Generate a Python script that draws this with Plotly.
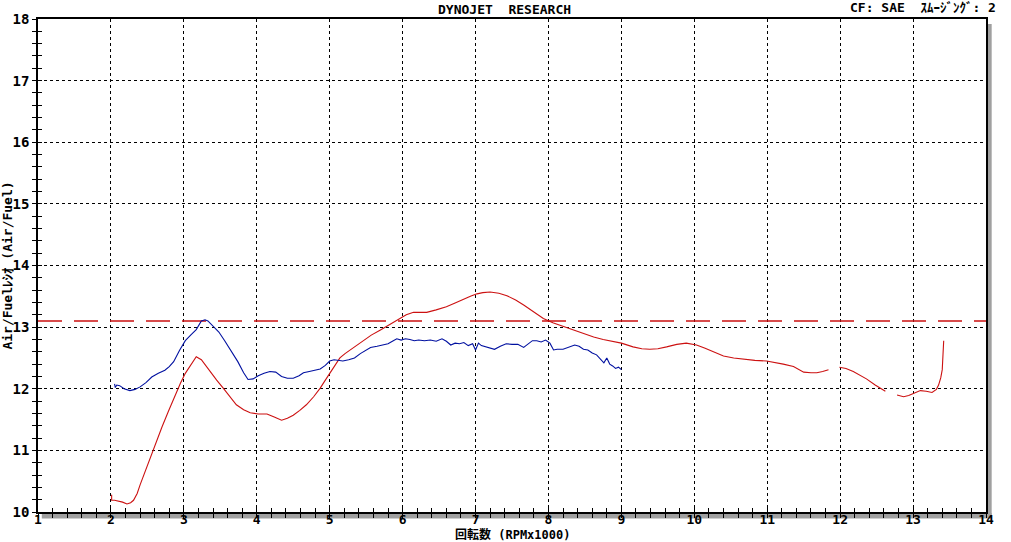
import plotly.graph_objects as go

# ---- data ----
blue_rpm = [2.05, 2.06, 2.08, 2.12, 2.18, 2.26, 2.33, 2.40, 2.48, 2.56, 2.65, 2.74, 2.80, 2.86,
            2.94, 3.02, 3.10, 3.17, 3.24, 3.29, 3.33, 3.40, 3.48, 3.56, 3.65, 3.74, 3.82, 3.88,
            3.95, 4.02, 4.10, 4.18, 4.26, 4.34, 4.42, 4.50, 4.58, 4.64, 4.72, 4.80, 4.87, 4.94,
            5.00, 5.06, 5.12, 5.18, 5.26, 5.34, 5.42, 5.50, 5.56, 5.65, 5.74, 5.80, 5.86, 5.92,
            5.98, 6.04, 6.10, 6.16, 6.22, 6.30, 6.38, 6.46, 6.54, 6.60, 6.66, 6.72, 6.78, 6.84,
            6.90, 6.96, 7.00, 7.04, 7.08, 7.14, 7.20, 7.26, 7.34, 7.42, 7.50, 7.58, 7.66, 7.72,
            7.78, 7.84, 7.90, 7.96, 8.02, 8.07, 8.12, 8.20, 8.28, 8.36, 8.42, 8.48, 8.54, 8.60,
            8.66, 8.72, 8.76, 8.80, 8.84, 8.88, 8.92, 8.96, 9.00]
blue_afr = [12.08, 12.02, 12.06, 12.05, 12.00, 11.97, 11.99, 12.03, 12.10, 12.19, 12.25, 12.30, 12.36, 12.44,
            12.62, 12.78, 12.88, 12.96, 13.10, 13.12, 13.10, 13.02, 12.92, 12.78, 12.62, 12.44, 12.26, 12.15,
            12.16, 12.21, 12.25, 12.28, 12.27, 12.20, 12.17, 12.17, 12.21, 12.26, 12.28, 12.30, 12.32, 12.38,
            12.45, 12.47, 12.46, 12.45, 12.47, 12.50, 12.57, 12.63, 12.67, 12.69, 12.71, 12.73, 12.77, 12.81,
            12.79, 12.81, 12.80, 12.78, 12.79, 12.78, 12.79, 12.77, 12.81, 12.77, 12.71, 12.74, 12.73, 12.75,
            12.70, 12.73, 12.63, 12.74, 12.70, 12.68, 12.65, 12.64, 12.69, 12.73, 12.72, 12.72, 12.67, 12.72,
            12.78, 12.78, 12.76, 12.79, 12.74, 12.63, 12.64, 12.64, 12.68, 12.71, 12.69, 12.64, 12.63, 12.58,
            12.55, 12.48, 12.42, 12.50, 12.40, 12.37, 12.33, 12.35, 12.31]

red_rpm = [2.01, 2.01, 2.05, 2.10, 2.16, 2.22, 2.27, 2.31, 2.36, 2.40, 2.47, 2.54, 2.62, 2.70,
           2.79, 2.88, 2.95, 3.02, 3.10, 3.17, 3.24, 3.30, 3.36, 3.45, 3.54, 3.63, 3.72, 3.82,
           3.91, 4.02, 4.14, 4.24, 4.34, 4.42, 4.50, 4.59, 4.68, 4.78, 4.87, 4.94, 5.00, 5.07,
           5.14, 5.21, 5.28, 5.37, 5.46, 5.57, 5.69, 5.82, 5.96, 6.05, 6.15, 6.24, 6.33, 6.46,
           6.60, 6.72, 6.83, 6.93, 7.02, 7.10, 7.20, 7.32, 7.43, 7.55, 7.66, 7.80, 7.93, 8.06,
           8.20, 8.34, 8.48, 8.62, 8.75, 8.88, 9.00, 9.16, 9.28, 9.39, 9.50, 9.62, 9.76, 9.89,
           10.03, 10.14, 10.26, 10.40, 10.54, 10.67, 10.83, 10.99, 11.10, 11.22, 11.36, 11.43,
           11.50, 11.60, 11.68, 11.76, 11.84, None, 11.99, 12.08, 12.18, 12.27, 12.36, 12.48,
           12.62, None, 12.78, 12.87, 12.94, 13.01, 13.10, 13.18, 13.26, 13.32, 13.35, 13.38,
           13.40, 13.41, 13.42]
red_afr = [10.28, 10.19, 10.19, 10.18, 10.16, 10.13, 10.15, 10.19, 10.30, 10.44, 10.66, 10.90, 11.14, 11.38,
           11.64, 11.90, 12.08, 12.25, 12.40, 12.52, 12.47, 12.37, 12.28, 12.14, 12.01, 11.87, 11.74, 11.66,
           11.61, 11.59, 11.59, 11.54, 11.49, 11.52, 11.57, 11.65, 11.74, 11.87, 12.01, 12.14, 12.25, 12.38,
           12.50, 12.57, 12.63, 12.71, 12.79, 12.87, 12.95, 13.04, 13.13, 13.20, 13.24, 13.24, 13.24, 13.28,
           13.33, 13.39, 13.45, 13.50, 13.54, 13.56, 13.57, 13.55, 13.51, 13.44, 13.36, 13.25, 13.14, 13.07,
           13.01, 12.95, 12.89, 12.84, 12.80, 12.77, 12.74, 12.68, 12.65, 12.64, 12.65, 12.68, 12.72, 12.74,
           12.71, 12.66, 12.60, 12.53, 12.50, 12.48, 12.46, 12.45, 12.43, 12.40, 12.36, 12.32,
           12.27, 12.26, 12.26, 12.28, 12.31, None, 12.35, 12.33, 12.28, 12.22, 12.16, 12.06,
           11.96, None, 11.90, 11.87, 11.89, 11.93, 11.97, 11.96, 11.94, 11.99, 12.06, 12.18,
           12.31, 12.55, 12.78]

ref_afr = 13.1
x_range = [1, 14]
y_range = [10, 18]
x_ticks = list(range(1, 15))
y_ticks = list(range(10, 19))

title_text = "DYNOJET  RESEARCH"
right_text = "CF: SAE  ｽﾑｰｼﾞﾝｸﾞ: 2"
x_title = "回転数 (RPMx1000)"
y_title = "Air/Fuelﾚｼｵ (Air/Fuel)"

FONT = "DejaVu Sans Mono, Noto Sans CJK JP, monospace"

fig = go.Figure()
fig.add_trace(go.Scatter(x=x_range, y=[ref_afr, ref_afr], mode="lines",
                         line=dict(color="#cc1111", width=1.5, dash="24px,12px"),
                         showlegend=False, hoverinfo="skip"))
fig.add_trace(go.Scatter(x=red_rpm, y=red_afr, mode="lines",
                         line=dict(color="#cc1111", width=1.1),
                         connectgaps=False, showlegend=False))
fig.add_trace(go.Scatter(x=blue_rpm, y=blue_afr, mode="lines",
                         line=dict(color="#0010a0", width=1.1),
                         showlegend=False))
# dummy trace to carry the overlay axes (inside half of crossing ticks)
fig.add_trace(go.Scatter(x=[None], y=[None], xaxis="x2", yaxis="y2",
                         mode="lines", showlegend=False, hoverinfo="skip"))

tickfont = dict(family=FONT, size=14, color="black", weight="bold")
xtickfont = dict(family=FONT, size=13, color="black", weight="bold")
titlefont = dict(family=FONT, size=13, color="black", weight="bold")

fig.update_layout(
    width=1011, height=542,
    margin=dict(l=38, r=25, t=19, b=30),
    paper_bgcolor="white", plot_bgcolor="white",
    xaxis=dict(range=x_range, tickvals=x_ticks, ticks="outside", ticklen=4,
               tickcolor="black", showgrid=True, gridcolor="black", griddash="3px,3px",
               gridwidth=1, showline=True, mirror=True, linecolor="black", linewidth=1.5,
               zeroline=False, tickfont=xtickfont, automargin=False, ticklabelstandoff=-9,
               minor=dict(dtick=0.2, ticks="outside", ticklen=4, tickcolor="black", showgrid=False)),
    yaxis=dict(range=y_range, tickvals=y_ticks, ticks="outside", ticklen=4,
               tickcolor="black", showgrid=True, gridcolor="black", griddash="3px,3px",
               gridwidth=1, showline=True, mirror=True, linecolor="black", linewidth=1.5,
               zeroline=False, tickfont=tickfont, automargin=False,
               minor=dict(dtick=0.2, ticks="outside", ticklen=4, tickcolor="black", showgrid=False),
               title=dict(text=y_title, font=titlefont, standoff=0)),
    xaxis2=dict(range=x_range, overlaying="x", side="bottom", tickvals=x_ticks, ticks="inside",
                ticklen=4, tickcolor="black", showticklabels=False, showgrid=False, zeroline=False,
                automargin=False,
                minor=dict(dtick=0.2, ticks="inside", ticklen=4, tickcolor="black", showgrid=False)),
    yaxis2=dict(range=y_range, overlaying="y", side="left", tickvals=y_ticks, ticks="inside",
                ticklen=4, tickcolor="black", showticklabels=False, showgrid=False, zeroline=False,
                automargin=False,
                minor=dict(dtick=0.2, ticks="inside", ticklen=4, tickcolor="black", showgrid=False)),
    shapes=[
        dict(type="rect", xref="paper", yref="paper", x0=1.002, x1=1.006, y0=-0.010, y1=0.990,
             fillcolor="#a0a0a0", line=dict(width=0), layer="below"),
        dict(type="rect", xref="paper", yref="paper", x0=0.004, x1=1.006, y0=-0.013, y1=-0.002,
             fillcolor="#a0a0a0", line=dict(width=0), layer="below"),
    ],
    annotations=[
        dict(text=title_text, xref="paper", yref="paper", x=0.4926, y=1.0, yshift=10,
             xanchor="center", yanchor="middle", showarrow=False,
             font=dict(family=FONT, size=13, color="black", weight="bold")),
        dict(text=right_text, xref="paper", yref="paper", x=1.0127, y=1.0, yshift=12,
             xanchor="right", yanchor="middle", showarrow=False,
             font=dict(family=FONT, size=13, color="black", weight="bold")),
        dict(text=x_title, xref="paper", yref="paper", x=0.5, y=0.0, yshift=-22,
             xanchor="center", yanchor="middle", showarrow=False, height=14, valign="middle",
             font=dict(family=FONT, size=12, color="black", weight="bold")),
    ],
)

fig.write_html("out.html")
